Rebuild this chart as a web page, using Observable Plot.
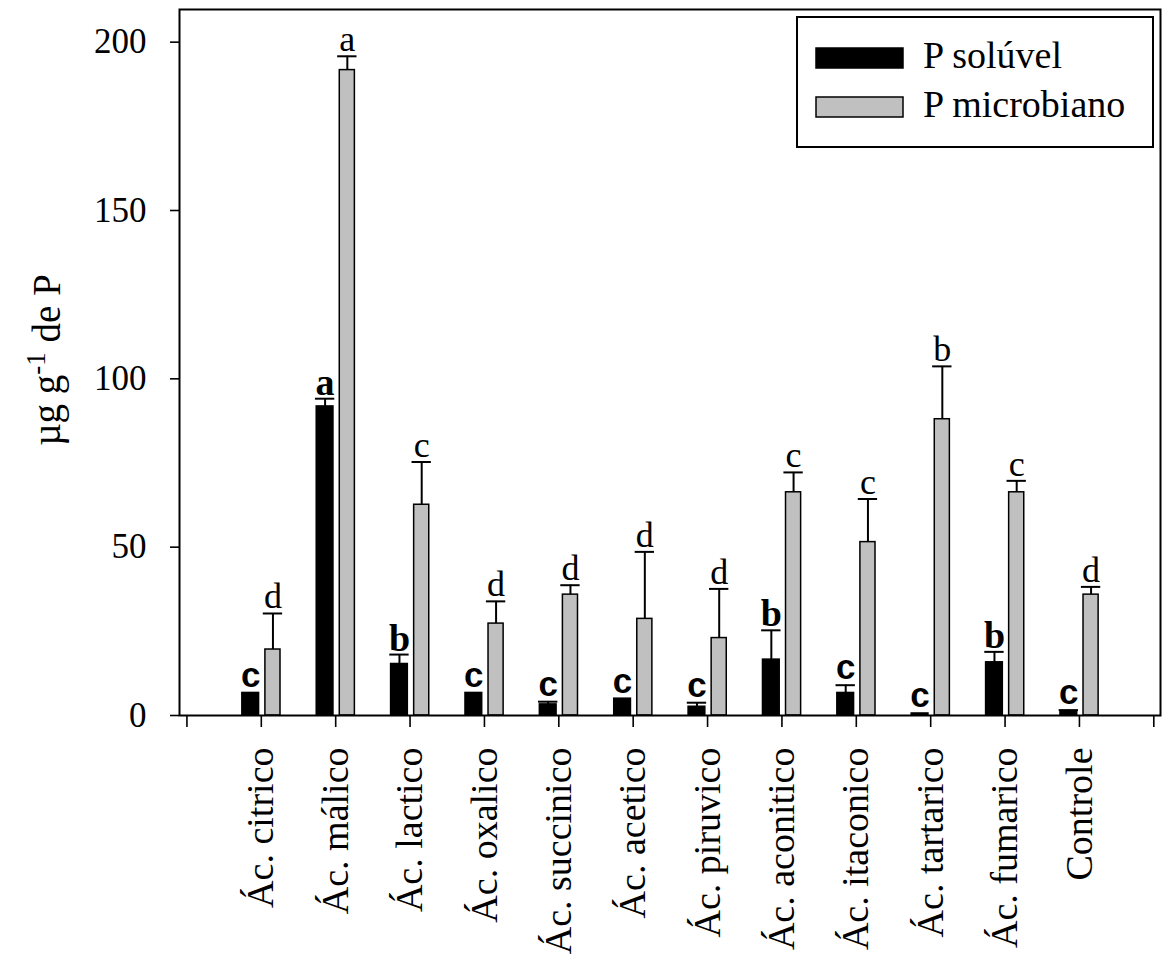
<!DOCTYPE html>
<html>
<head>
<meta charset="utf-8">
<script src="https://cdn.jsdelivr.net/npm/d3@7"></script>
<script src="https://cdn.jsdelivr.net/npm/@observablehq/plot@0.6"></script>
<style>
  body { margin: 0; background: #fff; }
  svg { display: block; }
</style>
</head>
<body>
<div id="chart"></div>
<script>
// Treatments (organic acids and control), in display order
const categories = [
  "Ác. citrico", "Ác. málico", "Ác. lactico", "Ác. oxalico", "Ác. succinico", "Ác. acetico",
  "Ác. piruvico", "Ác. aconitico", "Ác. itaconico", "Ác. tartarico", "Ác. fumarico", "Controle"
];
// P solúvel (µg g-1) and its standard error
const solubleP   = [6.7, 91.8, 15.3, 6.7, 3.3, 5.0, 2.6, 16.6, 6.7, 0.6, 15.8, 1.0];
const solubleErr = [0,   2.3,  2.8,  0,   0.8, 0,   1.2, 8.7,  2.3, 0,   3.1,  0.6];
// P microbiano (µg g-1) and its standard error
const microbialP   = [19.6, 191.7, 62.6, 27.3, 35.9, 28.7, 23.0, 66.3, 51.5, 88.0, 66.3, 35.9];
const microbialErr = [10.7, 4.1,   12.7, 6.6,  2.8,  19.9, 14.6, 5.9,  12.8, 15.7, 3.4,  2.3];
// Mean-separation letters
const solubleLetters   = ["c", "a", "b", "c", "c", "c", "c", "b", "c", "c", "b", "c"];
const microbialLetters = ["d", "a", "c", "d", "d", "d", "d", "c", "c", "b", "c", "d"];
// Axis ticks and series names
const yTicks = [0, 50, 100, 150, 200];
const seriesNames = ["P solúvel", "P microbiano"];
const seriesColors = ["#000000", "#c0c0c0"];

const serif = "'Liberation Serif', 'Times New Roman', serif";
const sans = "'Liberation Sans', Arial, sans-serif";

const W = 1164, H = 980;
const margin = {top: 9, right: 4, bottom: 265, left: 179};

// bar extent (in category units) relative to each tick, per series
const barSpan = {
  [seriesNames[0]]: [-0.255, -0.03],
  [seriesNames[1]]: [0.055, 0.258]
};
const capHalf = 0.13;

const rows = categories.flatMap((cat, i) => [
  {cat, pos: i + 1, series: seriesNames[0], value: solubleP[i], err: solubleErr[i], letter: solubleLetters[i]},
  {cat, pos: i + 1, series: seriesNames[1], value: microbialP[i], err: microbialErr[i], letter: microbialLetters[i]}
]);
const barLo = d => d.pos + barSpan[d.series][0];
const barHi = d => d.pos + barSpan[d.series][1];
const barMid = d => (barLo(d) + barHi(d)) / 2;
const errTop = d => d.value + d.err;
const withErr = rows.filter(d => d.err > 0);
const soluble = rows.filter(d => d.series === seriesNames[0]);
const microbial = rows.filter(d => d.series === seriesNames[1]);

const xTicks = d3.range(0, categories.length + 2);

const chart = Plot.plot({
  width: W,
  height: H,
  marginTop: margin.top,
  marginRight: margin.right,
  marginBottom: margin.bottom,
  marginLeft: margin.left,
  style: {fontFamily: serif, background: "#fff", color: "#000"},
  x: {type: "linear", domain: [-0.1, categories.length + 1.09]},
  y: {domain: [0, 209.7]},
  color: {domain: seriesNames, range: seriesColors},
  marks: [
    Plot.rect(rows, {
      x1: barLo, x2: barHi, y1: 0, y2: "value",
      fill: "series", stroke: "#000", strokeWidth: 1.5
    }),
    Plot.ruleX(withErr, {x: barMid, y1: "value", y2: errTop, stroke: "#000", strokeWidth: 2}),
    Plot.ruleY(withErr, {y: errTop, x1: d => barMid(d) - capHalf, x2: d => barMid(d) + capHalf, stroke: "#000", strokeWidth: 2}),
    Plot.text(soluble.filter(d => d.letter === "c"), {
      x: barMid, y: errTop, text: "letter", lineAnchor: "bottom", dy: -6,
      fontFamily: sans, fontWeight: "bold", fontSize: 35, fill: "#000"
    }),
    Plot.text(soluble.filter(d => d.letter !== "c"), {
      x: barMid, y: errTop, text: "letter", lineAnchor: "bottom", dy: -4,
      fontFamily: serif, fontWeight: "bold", fontSize: 38, fill: "#000"
    }),
    Plot.text(microbial, {
      x: barMid, y: errTop, text: "letter", lineAnchor: "bottom", dy: -5,
      fontFamily: serif, fontSize: 36, fill: "#000"
    }),
    Plot.axisY({
      ticks: yTicks, tickSize: 9, tickPadding: 24, fontSize: 35,
      fontFamily: serif, strokeWidth: 1.6, label: null
    }),
    Plot.axisX({
      ticks: xTicks,
      tickFormat: i => categories[i - 1] ?? "",
      tickRotate: -90, tickSize: 12, tickPadding: 20, fontSize: 38,
      fontFamily: serif, strokeWidth: 1.6, label: null
    }),
    Plot.frame({stroke: "#000", strokeWidth: 2})
  ]
});

document.getElementById("chart").appendChild(chart);

const svg = d3.select(chart);

// y-axis title with superscript
const title = svg.append("text")
  .attr("transform", `translate(60, ${(margin.top + (H - margin.bottom)) / 2 - 2}) rotate(-90)`)
  .attr("text-anchor", "middle")
  .attr("font-family", serif)
  .attr("font-size", 39)
  .attr("fill", "#000");
title.append("tspan").text("µg g");
title.append("tspan").attr("font-size", 27).attr("dy", "-0.55em").text("-1");
title.append("tspan").attr("dy", "0.39em").text(" de P");

// legend box in the upper-right corner of the frame
const frameRight = W - margin.right;
const lg = svg.append("g").attr("transform", `translate(${frameRight - 363}, ${margin.top + 8})`);
lg.append("rect").attr("x", 0).attr("y", 0).attr("width", 356).attr("height", 130)
  .attr("fill", "#fff").attr("stroke", "#000").attr("stroke-width", 2);
seriesNames.forEach((name, i) => {
  const yy = i === 0 ? 31 : 80;
  lg.append("rect").attr("x", 19).attr("y", yy).attr("width", 87).attr("height", 20)
    .attr("fill", seriesColors[i]).attr("stroke", "#000").attr("stroke-width", 1.5);
  lg.append("text").attr("x", 126).attr("y", yy + 20)
    .attr("text-anchor", "start")
    .attr("font-family", serif).attr("font-size", 38).attr("fill", "#000")
    .text(name);
});
</script>
</body>
</html>
